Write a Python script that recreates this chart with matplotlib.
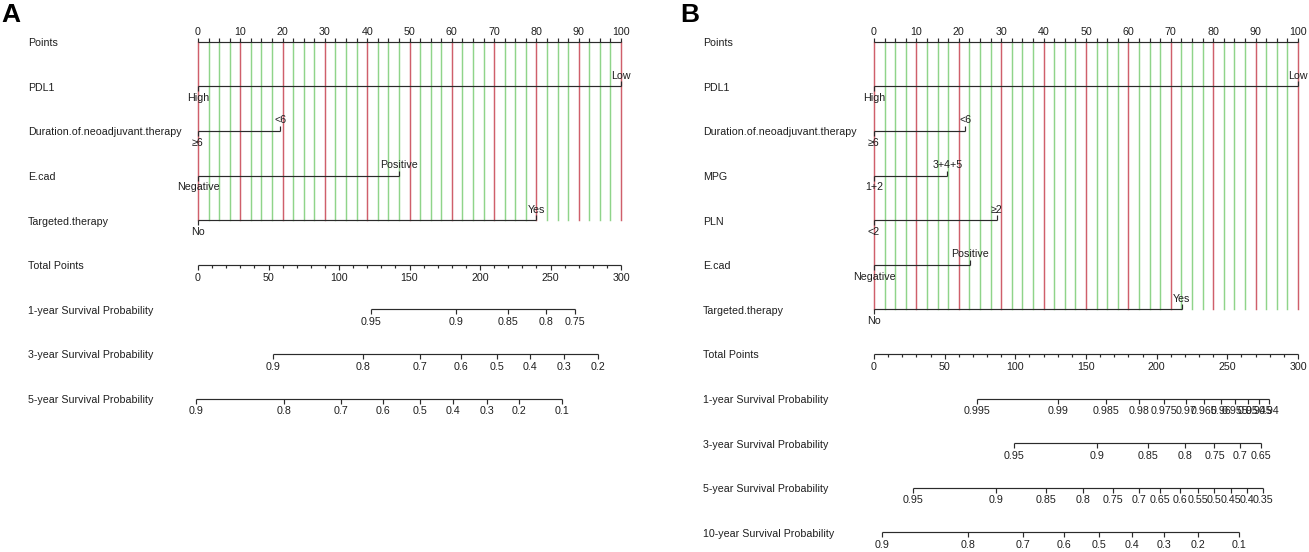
import matplotlib
matplotlib.use("Agg")
import matplotlib.pyplot as plt
import numpy as np

plt.rcParams['font.family'] = ['Liberation Sans', 'DejaVu Sans']

W, H = 1309, 552

# ---------------- Panel A data ----------------
a_vars = ["PDL1", "Duration.of.neoadjuvant.therapy", "E.cad", "Targeted.therapy"]
a_low_labels = ["High", "≥6", "Negative", "No"]
a_high_labels = ["Low", "<6", "Positive", "Yes"]
a_high_points = [100, 19.5, 47.5, 80]

a_surv_names = ["1-year Survival Probability",
                "3-year Survival Probability",
                "5-year Survival Probability"]
a_1y_labels = ["0.95", "0.9", "0.85", "0.8", "0.75"]
a_1y_total = [122.9, 182.8, 219.6, 246.5, 267.6]
a_3y_labels = ["0.9", "0.8", "0.7", "0.6", "0.5", "0.4", "0.3", "0.2"]
a_3y_total = [53.5, 117.2, 157.7, 186.6, 211.8, 235.8, 259.5, 283.8]
a_5y_labels = ["0.9", "0.8", "0.7", "0.6", "0.5", "0.4", "0.3", "0.2", "0.1"]
a_5y_total = [-1.4, 61.3, 101.3, 131.1, 157.7, 180.8, 204.8, 228.0, 258.3]

# ---------------- Panel B data ----------------
b_vars = ["PDL1", "Duration.of.neoadjuvant.therapy", "MPG", "PLN", "E.cad", "Targeted.therapy"]
b_low_labels = ["High", "≥6", "1+2", "<2", "Negative", "No"]
b_high_labels = ["Low", "<6", "3+4+5", "≥2", "Positive", "Yes"]
b_high_points = [100, 21.5, 17.3, 28.9, 22.7, 72.6]

b_surv_names = ["1-year Survival Probability",
                "3-year Survival Probability",
                "5-year Survival Probability",
                "10-year Survival Probability"]
b_1y_labels = ["0.995", "0.99", "0.985", "0.98", "0.975", "0.97", "0.965",
               "0.96", "0.955", "0.95", "0.945", "0.94"]
b_1y_total = [72.6, 130.2, 163.9, 187.6, 205.4, 221.0, 233.8, 245.2,
              255.2, 264.3, 272.5, 279.8]
b_3y_labels = ["0.95", "0.9", "0.85", "0.8", "0.75", "0.7", "0.65"]
b_3y_total = [98.9, 158.0, 193.7, 220.1, 240.9, 259.0, 273.6]
b_5y_labels = ["0.95", "0.9", "0.85", "0.8", "0.75", "0.7", "0.65", "0.6",
               "0.55", "0.5", "0.45", "0.4", "0.35"]
b_5y_total = [27.8, 86.3, 122.0, 147.8, 168.9, 187.3, 202.5, 216.6,
              229.1, 240.9, 252.6, 263.7, 275.1]
b_10y_labels = ["0.9", "0.8", "0.7", "0.6", "0.5", "0.4", "0.3", "0.2", "0.1"]
b_10y_total = [5.9, 66.7, 105.4, 134.6, 159.5, 182.9, 205.4, 228.9, 258.4]

# ---------------- style ----------------
FS = 7.7
TXT = '#1f1f1f'
LINE = '#2b2b2b'
RED = '#cf5f6b'
GREEN = '#8fd48a'
LW = 0.85
ROW0 = 41.7
ROWSTEP = 44.6
TOTAL_MAX = 300


def draw_panel(left_px, right_px, name_px, letter, letter_px,
               var_names, low_labels, high_labels, high_points,
               surv_names, surv_labels, surv_totals):
    ax = fig.add_axes([left_px / W, 0, (right_px - left_px) / W, 1])
    ax.set_xlim(0, 100)
    ax.set_ylim(H, 0)
    ax.axis('off')
    ppx = (right_px - left_px) / 100.0
    name_x = (name_px - left_px) / ppx

    def row(k):
        return ROW0 + ROWSTEP * k

    kw = dict(color=LINE, lw=LW, solid_capstyle='butt', clip_on=False, zorder=3)
    tkw = dict(fontsize=FS, color=TXT, clip_on=False)

    # Points axis with grid
    y0 = row(0)
    y_last = row(len(var_names))
    ticks = np.arange(0, 100.01, 2.5)
    for t in ticks:
        major = abs(t / 10 - round(t / 10)) < 1e-9
        ax.plot([t, t], [y0, y_last], color=RED if major else GREEN,
                lw=1.05, zorder=1, clip_on=False)
        ax.plot([t, t], [y0, y0 - 4], **kw)
        if major:
            ax.text(t, y0 - 10, f"{int(t)}", ha='center', va='center', **tkw)
    ax.plot([0, 100], [y0, y0], **kw)
    ax.text(name_x, y0 + 1.5, "Points", ha='left', va='center', **tkw)

    # Variables
    for i, nm in enumerate(var_names):
        y = row(i + 1)
        hp = high_points[i]
        ax.plot([0, hp], [y, y], **kw)
        ax.plot([0, 0], [y, y + 5], **kw)
        ax.plot([hp, hp], [y, y - 5], **kw)
        ax.text(0, y + 12, low_labels[i], ha='center', va='center', **tkw)
        ax.text(hp, y - 10.5, high_labels[i], ha='center', va='center', **tkw)
        ax.text(name_x, y + 1.5, nm, ha='left', va='center', **tkw)

    # Total points axis
    yt = row(len(var_names) + 1)
    sc = 100.0 / TOTAL_MAX
    for t in np.arange(0, TOTAL_MAX + 0.1, 10):
        major = int(t) % 50 == 0
        ax.plot([t * sc, t * sc], [yt, yt + (5.5 if major else 3.3)], **kw)
        if major:
            ax.text(t * sc, yt + 13.4, f"{int(t)}", ha='center', va='center', **tkw)
    ax.plot([0, 100], [yt, yt], **kw)
    ax.text(name_x, yt + 1.5, "Total Points", ha='left', va='center', **tkw)

    # Survival axes
    for j, nm in enumerate(surv_names):
        y = row(len(var_names) + 2 + j)
        xs = [v * sc for v in surv_totals[j]]
        ax.plot([min(xs), max(xs)], [y, y], **kw)
        for x, lab in zip(xs, surv_labels[j]):
            ax.plot([x, x], [y, y + 5], **kw)
            ax.text(x, y + 12.7, lab, ha='center', va='center', **tkw)
        ax.text(name_x, y + 1.5, nm, ha='left', va='center', **tkw)

    fig.text(letter_px / W, 1 - 15 / H, letter, fontsize=19, fontweight='bold',
             color='black', ha='left', va='center')


fig = plt.figure(figsize=(W / 100, H / 100), dpi=100)

draw_panel(198, 621, 28, "A", 1,
           a_vars, a_low_labels, a_high_labels, a_high_points,
           a_surv_names, [a_1y_labels, a_3y_labels, a_5y_labels],
           [a_1y_total, a_3y_total, a_5y_total])

draw_panel(874, 1298, 703, "B", 680,
           b_vars, b_low_labels, b_high_labels, b_high_points,
           b_surv_names, [b_1y_labels, b_3y_labels, b_5y_labels, b_10y_labels],
           [b_1y_total, b_3y_total, b_5y_total, b_10y_total])

fig.savefig("out.png", dpi=100)
